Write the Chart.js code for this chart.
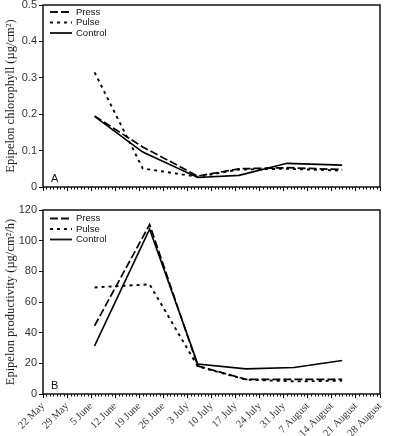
<!DOCTYPE html>
<html>
<head>
<meta charset="utf-8">
<script src="https://cdn.jsdelivr.net/npm/chart.js@4/dist/chart.umd.min.js"></script>
<style>
    body { margin: 0; background: #fff; }
    #wrap { position: relative; width: 396px; height: 436px; }
    canvas { position: absolute; left: 0; }
    #chlChart { top: 0; }
    #prodChart { top: 198px; }
</style>
</head>
<body>
<div id="wrap">
    <canvas id="chlChart" width="396" height="200"></canvas>
    <canvas id="prodChart" width="396" height="238"></canvas>
</div>
<script>
// Dates as days after 22 May
const weekLabels = ['22 May', '29 May', '5 June', '12 June', '19 June', '26 June', '3 July',
    '10 July', '17 July', '24 July', '31 July', '7 August', '14 August', '21 August', '28 August'];

// Panel A - chlorophyll
const chlDays = [15, 29, 45, 57, 71, 87];
const chlPress = [0.195, 0.11, 0.03, 0.05, 0.053, 0.048];
const chlPulse = [0.315, 0.051, 0.028, 0.048, 0.05, 0.045];
const chlControl = [0.194, 0.096, 0.026, 0.032, 0.065, 0.06];

// Panel B - productivity
const prodDays = [15, 31, 45, 59, 73, 87];
const prodPress = [44.5, 110.5, 18.3, 9.6, 9.6, 9.6];
const prodPulse = [69.5, 71.5, 18, 9.4, 8.2, 8.7];
const prodControl = [31.4, 107.5, 19.6, 16.4, 17.3, 21.8];

const SANS = 'Liberation Sans';
const SERIF = 'Liberation Serif';

function points(days, vals) {
    return days.map((d, i) => ({ x: d, y: vals[i] }));
}

function makeDatasets(days, press, pulse, control) {
    return [
        { label: 'Press', data: points(days, press), borderColor: '#000', borderWidth: 1.7, borderDash: [8, 3] },
        { label: 'Pulse', data: points(days, pulse), borderColor: '#000', borderWidth: 1.9, borderDash: [3, 4] },
        { label: 'Control', data: points(days, control), borderColor: '#000', borderWidth: 1.6, borderDash: [] }
    ];
}

// frame, minor ticks, inside legend and panel letter
const panelPlugin = {
    id: 'panel',
    afterDraw(chart, args, opts) {
        const ctx = chart.ctx;
        const area = chart.chartArea;
        const x = chart.scales.x;
        ctx.save();
        ctx.strokeStyle = '#000';
        ctx.lineWidth = 1;
        for (let d = 0; d <= 98; d++) {
            if (d % 7 === 0) continue;
            const px = Math.round(x.getPixelForValue(d)) + 0.5;
            ctx.beginPath();
            ctx.moveTo(px, area.bottom);
            ctx.lineTo(px, area.bottom + 2.5);
            ctx.stroke();
        }
        ctx.lineWidth = 1.5;
        ctx.strokeStyle = '#111';
        ctx.strokeRect(area.left, area.top, area.right - area.left, area.bottom - area.top);

        // legend
        ctx.font = '9.5px ' + SANS;
        ctx.fillStyle = '#111';
        ctx.textBaseline = 'middle';
        chart.data.datasets.forEach((ds, i) => {
            const ly = area.top + opts.legendTop + i * 10.5;
            ctx.beginPath();
            ctx.setLineDash(ds.borderDash);
            ctx.lineWidth = ds.borderWidth + 0.2;
            ctx.moveTo(area.left + 7, ly);
            ctx.lineTo(area.left + 29, ly);
            ctx.stroke();
            ctx.setLineDash([]);
            ctx.fillText(ds.label, area.left + 33, ly);
        });

        ctx.font = '11px ' + SANS;
        ctx.textBaseline = 'alphabetic';
        ctx.fillText(opts.letter, area.left + 8, area.bottom - 5);
        ctx.restore();
    }
};

function makeChart(id, datasets, yOpts, opts) {
    return new Chart(document.getElementById(id), {
        type: 'line',
        data: { datasets },
        plugins: [panelPlugin],
        options: {
            responsive: false,
            animation: false,
            devicePixelRatio: 1,
            layout: { padding: { top: opts.padTop, right: 16, left: 0, bottom: 0 } },
            elements: { point: { radius: 0 }, line: { tension: 0 } },
            plugins: {
                legend: { display: false },
                tooltip: { enabled: false },
                panel: { letter: opts.letter, legendTop: opts.legendTop }
            },
            scales: {
                x: {
                    type: 'linear',
                    min: 0,
                    max: 98,
                    afterBuildTicks: scale => {
                        scale.ticks = weekLabels.map((l, i) => ({ value: i * 7 }));
                    },
                    afterFit: scale => {
                        scale.height = opts.xHeight;
                        scale.paddingLeft = 0;
                        scale.paddingRight = 0;
                    },
                    ticks: {
                        display: opts.showLabels,
                        autoSkip: false,
                        minRotation: 45,
                        maxRotation: 45,
                        padding: 2,
                        color: '#333',
                        font: { family: SERIF, size: 10.5 },
                        callback: (v, i) => weekLabels[i]
                    },
                    grid: { drawOnChartArea: false, tickLength: 4, color: '#000' },
                    border: { display: false }
                },
                y: {
                    min: 0,
                    max: yOpts.max,
                    afterBuildTicks: scale => {
                        scale.ticks = yOpts.ticks.map(v => ({ value: v }));
                    },
                    afterFit: scale => {
                        scale.width = 43;
                        scale.paddingTop = 0;
                        scale.paddingBottom = 0;
                    },
                    ticks: {
                        padding: 2,
                        color: '#333',
                        font: { family: SANS, size: 11 },
                        callback: v => String(v)
                    },
                    grid: { drawOnChartArea: false, tickLength: 4, color: '#000' },
                    border: { display: false },
                    title: {
                        display: true,
                        text: yOpts.title,
                        color: '#222',
                        padding: { top: 3, bottom: 0 },
                        font: { family: SERIF, size: 12.5 }
                    }
                }
            }
        }
    });
}

const chlTicks = [0, 0.1, 0.2, 0.3, 0.4, 0.5];
const prodTicks = [0, 20, 40, 60, 80, 100, 120];

makeChart('chlChart', makeDatasets(chlDays, chlPress, chlPulse, chlControl),
    { max: 0.5, ticks: chlTicks, title: 'Epipelon chlorophyll (µg/cm²)' },
    { padTop: 5, xHeight: 13, showLabels: false, letter: 'A', legendTop: 7 });

makeChart('prodChart', makeDatasets(prodDays, prodPress, prodPulse, prodControl),
    { max: 120, ticks: prodTicks, title: 'Epipelon productivity (µg/cm²/h)' },
    { padTop: 12, xHeight: 42, showLabels: true, letter: 'B', legendTop: 8.5 });
</script>
</body>
</html>
